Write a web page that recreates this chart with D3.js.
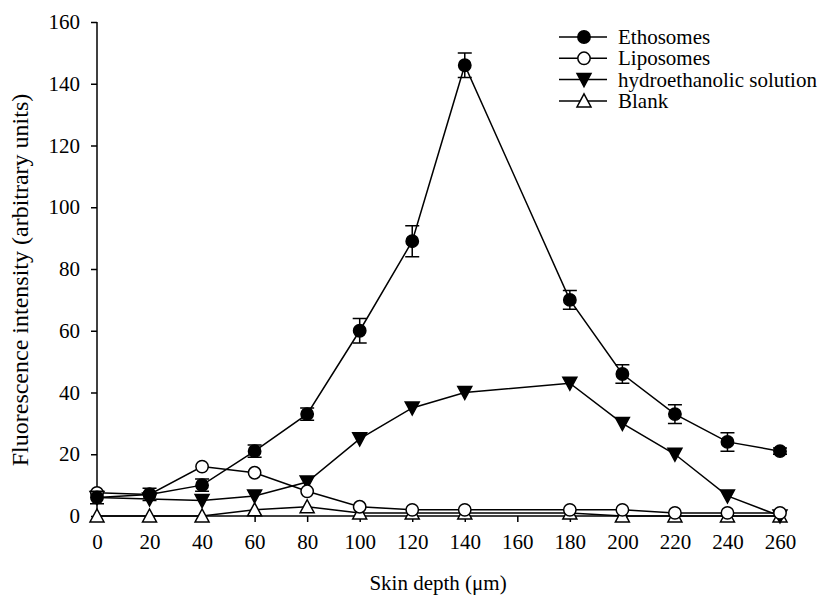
<!DOCTYPE html>
<html>
<head>
<meta charset="utf-8">
<script src="https://cdn.jsdelivr.net/npm/d3@7"></script>
</head>
<body style="margin:0; background:#fff">
<svg id="chart" width="823" height="599" font-family="Liberation Serif"></svg>
<script>
// skin depth (µm) of each measurement
const depths = [0, 20, 40, 60, 80, 100, 120, 140, 180, 200, 220, 240, 260];

const ethosomes    = [6, 7, 10, 21, 33, 60, 89, 146, 70, 46, 33, 24, 21];
const ethosomesErr = [2, 2, 2, 2, 2, 4, 5, 4, 3, 3, 3, 3, 1];
const liposomes    = [7.5, 7, 16, 14, 8, 3, 2, 2, 2, 2, 1, 1, 1];
const hydroethanol = [6, 5.5, 5, 6.5, 11, 25, 35, 40, 43, 30, 20, 6.5, 0];
const blank        = [0, 0, 0, 2, 3, 1, 1, 1, 1, 0, 0, 0, 0];

const xTicks = d3.range(0, 261, 20);
const yTicks = d3.range(0, 161, 20);

const seriesNames = ["Ethosomes", "Liposomes", "hydroethanolic solution", "Blank"];

var svg = d3.select("#chart");
var fs = 21, font = "Liberation Serif";

var x = d3.scaleLinear().domain([0, 260]).range([97, 780]);
var y = d3.scaleLinear().domain([0, 160]).range([516, 22]);

// axes
var xAxis = svg.append("g").attr("transform", "translate(0," + y(0) + ")")
    .call(d3.axisBottom(x).tickValues(xTicks).tickSize(6).tickPadding(12));
var yAxis = svg.append("g").attr("transform", "translate(" + x(0) + ",0)")
    .call(d3.axisLeft(y).tickValues(yTicks).tickSize(6).tickPadding(11));

[xAxis, yAxis].forEach(g => {
    g.attr("font-family", font).attr("font-size", fs);
    g.select(".domain").attr("stroke", "#000").attr("stroke-width", 1.5);
    g.selectAll(".tick line").attr("stroke", "#000").attr("stroke-width", 1.5);
    g.selectAll(".tick text").attr("fill", "#000");
});
xAxis.select(".domain").attr("d", "M" + x(0) + ",0H" + x(260));
yAxis.select(".domain").attr("d", "M0," + y(0) + "V" + y(160));

svg.append("text").attr("x", 438).attr("y", 590)
    .attr("text-anchor", "middle").attr("font-size", fs).attr("font-family", font)
    .text("Skin depth (\u03bcm)");
svg.append("text")
    .attr("transform", "translate(28,280) rotate(-90)")
    .attr("text-anchor", "middle").attr("font-size", 24).attr("font-family", font)
    .text("Fluorescence intensity (arbitrary units)");

// markers
var circle = d3.symbol().type(d3.symbolCircle).size(120);
var triDown = "M-7,-6L7,-6L0,7Z";
var triUp   = "M-7,6L7,6L0,-7Z";

var series = [
    { vals: blank,        path: triUp,   fill: "#fff" },
    { vals: hydroethanol, path: triDown, fill: "#000" },
    { vals: liposomes,    path: circle(), fill: "#fff" },
    { vals: ethosomes,    path: circle(), fill: "#000", err: ethosomesErr }
];

var line = d3.line().x((d, i) => x(depths[i])).y(d => y(d));

series.forEach(s => {
    svg.append("path").datum(s.vals)
        .attr("d", line).attr("fill", "none")
        .attr("stroke", "#000").attr("stroke-width", 1.5);
});

series.forEach(s => {
    var g = svg.append("g");
    if (s.err) {
        s.vals.forEach((v, i) => {
            var cx = x(depths[i]), e = s.err[i];
            g.append("path")
                .attr("d", "M" + cx + "," + y(v - e) + "V" + y(v + e) +
                           "M" + (cx - 7) + "," + y(v + e) + "H" + (cx + 7) +
                           "M" + (cx - 7) + "," + y(v - e) + "H" + (cx + 7))
                .attr("stroke", "#000").attr("stroke-width", 1.5).attr("fill", "none");
        });
    }
    g.selectAll("path.mk").data(s.vals).enter().append("path")
        .attr("class", "mk")
        .attr("d", s.path)
        .attr("transform", (d, i) => "translate(" + x(depths[i]) + "," + y(d) + ")")
        .attr("fill", s.fill).attr("stroke", "#000").attr("stroke-width", 1.5);
});

// legend
var legendPaths = [circle(), circle(), triDown, triUp];
var legendFills = ["#000", "#fff", "#000", "#fff"];
var lg = svg.append("g");
seriesNames.forEach((name, i) => {
    var ly = 37 + i * 21.3;
    lg.append("line").attr("x1", 559).attr("x2", 607).attr("y1", ly).attr("y2", ly)
        .attr("stroke", "#000").attr("stroke-width", 1.5);
    lg.append("path").attr("d", legendPaths[i])
        .attr("transform", "translate(584," + ly + ")")
        .attr("fill", legendFills[i]).attr("stroke", "#000").attr("stroke-width", 1.5);
    lg.append("text").attr("x", 618).attr("y", ly + 7)
        .attr("font-size", fs).attr("font-family", font).text(name);
});
</script>
</body>
</html>
